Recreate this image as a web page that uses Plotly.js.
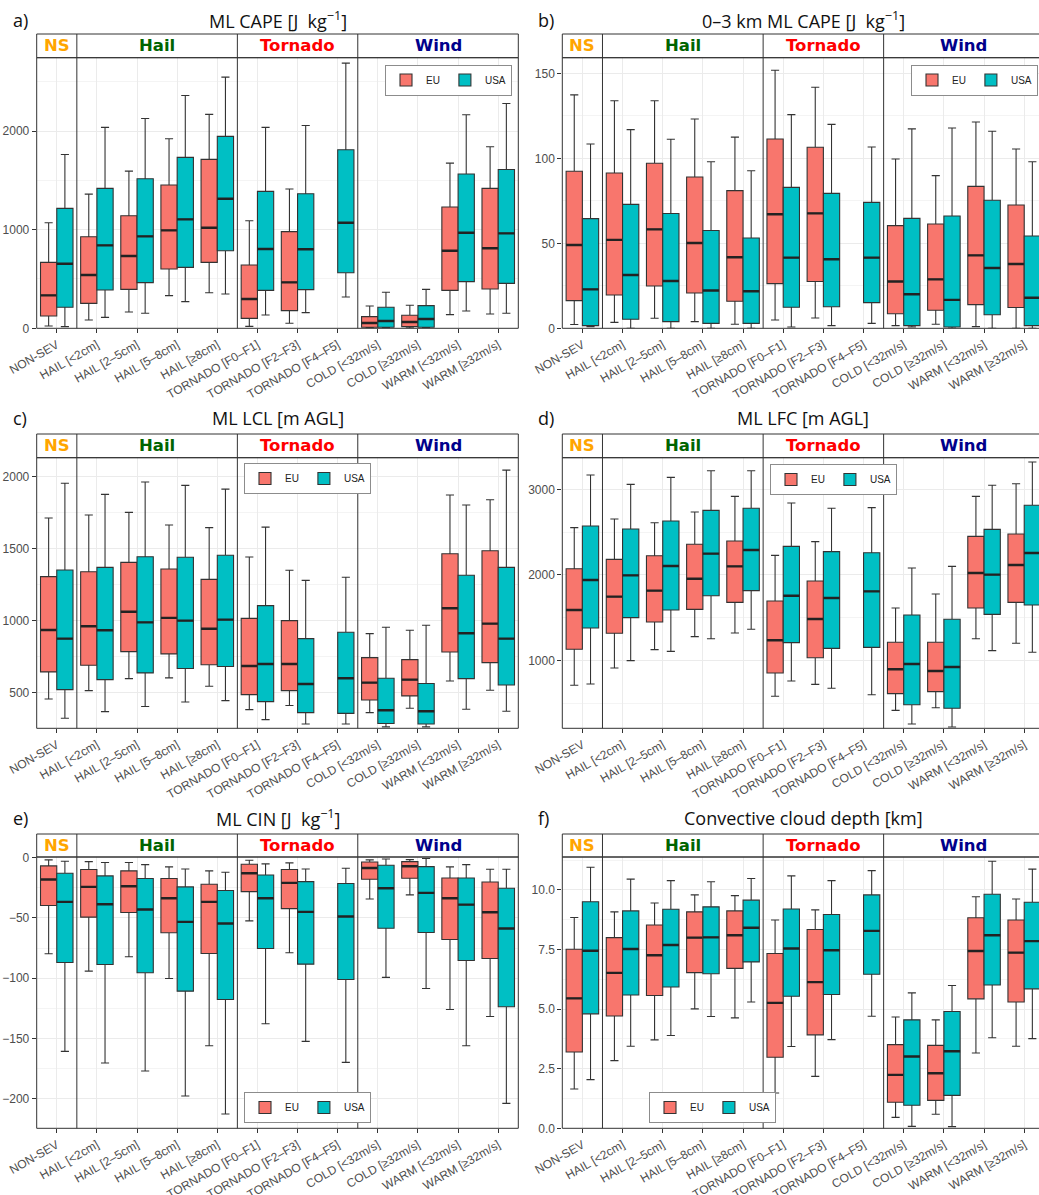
<!DOCTYPE html>
<html><head><meta charset="utf-8">
<script src="https://cdn.plot.ly/plotly-3.0.1.min.js"></script>
<style>html,body{margin:0;padding:0;background:#fff}#chart{width:1039px;height:1195px}</style>
</head><body><div id="chart"></div>
<script>
// ---------------- DATA ----------------
const categories = ["NON-SEV","HAIL [<2cm]","HAIL [2–5cm]","HAIL [5–8cm]","HAIL [≥8cm]",
  "TORNADO [F0–F1]","TORNADO [F2–F3]","TORNADO [F4–F5]",
  "COLD [<32m/s]","COLD [≥32m/s]","WARM [<32m/s]","WARM [≥32m/s]"];
const groupLabels = ["NS","Hail","Tornado","Wind"];
const groupSizes = [1,4,3,4];
const seriesNames = ["EU","USA"];

// a) ML CAPE
const capeEU_lo  = [24, 84, 166, 331, 361, 20, 51, null, 3, 3, 139, 145];
const capeEU_q1  = [125, 253, 395, 601, 669, 101, 179, null, 10, 17, 385, 399];
const capeEU_med = [334, 540, 733, 993, 1020, 297, 466, null, 54, 64, 787, 811];
const capeEU_q3  = [669, 929, 1142, 1453, 1713, 642, 980, null, 118, 132, 1230, 1419];
const capeEU_hi  = [1071, 1361, 1594, 1922, 2169, 1091, 1412, null, 226, 233, 1675, 1841];
const capeUS_lo  = [17, 111, 152, 270, 348, 135, 159, 318, 3, 3, 176, 152];
const capeUS_q1  = [213, 388, 463, 618, 787, 385, 392, 564, 10, 10, 473, 456];
const capeUS_med = [655, 841, 932, 1105, 1314, 804, 801, 1071, 74, 95, 969, 963];
const capeUS_q3  = [1216, 1419, 1517, 1733, 1946, 1388, 1365, 1811, 213, 230, 1564, 1611];
const capeUS_hi  = [1763, 2037, 2128, 2361, 2547, 2037, 2057, 2689, 365, 395, 2165, 2280];

// b) 0-3 km ML CAPE
const cape03EU_lo  = [2.2, 3.5, 5.9, 3.9, 2.4, 4.9, 6.1, null, 1.6, 2.4, 1.0, 0];
const cape03EU_q1  = [16.3, 19.6, 24.9, 20.8, 15.9, 26.3, 27.5, null, 8.6, 10.6, 13.9, 12.2];
const cape03EU_med = [49.0, 52.0, 58.2, 50.2, 41.8, 67.1, 67.6, null, 27.5, 28.8, 42.9, 37.8];
const cape03EU_q3  = [92.4, 91.4, 97.1, 89.0, 81.0, 111.4, 106.5, null, 60.4, 61.4, 83.5, 72.5];
const cape03EU_hi  = [137.3, 133.9, 133.9, 123.1, 112.5, 151.8, 141.8, null, 99.6, 89.8, 121.4, 105.5];
const cape03US_lo  = [1.0, 0, 0, 0, 0, 0.8, 1.6, 2.9, 0.8, 0, 0, 0];
const cape03US_q1  = [1.6, 5.3, 3.9, 2.9, 2.9, 12.4, 12.7, 15.1, 1.6, 0.8, 8.0, 1.6];
const cape03US_med = [22.9, 31.4, 27.8, 22.2, 21.8, 41.6, 40.6, 41.6, 20.0, 16.7, 35.5, 18.0];
const cape03US_q3  = [64.5, 72.9, 67.5, 57.5, 53.1, 82.9, 79.4, 74.1, 64.7, 66.1, 75.3, 54.3];
const cape03US_hi  = [108.4, 116.9, 111.2, 98.0, 92.7, 125.7, 120.0, 106.7, 117.3, 117.8, 115.9, 98.0];

// c) ML LCL
const lclEU_lo  = [456, 514, 597, 602, 544, 382, 410, null, 361, 391, 581, 516];
const lclEU_q1  = [644, 690, 785, 769, 694, 486, 514, null, 449, 477, 782, 708];
const lclEU_med = [935, 961, 1062, 1019, 944, 685, 699, null, 569, 590, 1086, 979];
const lclEU_q3  = [1306, 1340, 1405, 1359, 1287, 1016, 1000, null, 743, 729, 1465, 1486];
const lclEU_hi  = [1713, 1734, 1752, 1664, 1646, 1442, 1350, null, 910, 933, 1873, 1840];
const lclUS_lo  = [322, 368, 403, 435, 444, 312, 282, 282, 262, 262, 384, 370];
const lclUS_q1  = [521, 590, 637, 667, 681, 437, 361, 356, 285, 282, 597, 553];
const lclUS_med = [875, 933, 988, 1000, 1007, 699, 560, 600, 377, 370, 912, 875];
const lclUS_q3  = [1352, 1370, 1444, 1440, 1454, 1104, 875, 919, 600, 563, 1315, 1370];
const lclUS_hi  = [1954, 1877, 1963, 1940, 1914, 1650, 1280, 1301, 954, 968, 1803, 2046];

// d) ML LFC
const lfcEU_lo  = [708, 910, 1125, 1277, 1320, 579, 719, null, 415, 446, 1253, 1199];
const lfcEU_q1  = [1129, 1316, 1448, 1596, 1678, 852, 1031, null, 610, 634, 1612, 1678];
const lfcEU_med = [1589, 1745, 1815, 1955, 2099, 1234, 1483, null, 895, 875, 2021, 2115];
const lfcEU_q3  = [2072, 2181, 2224, 2357, 2396, 1694, 1928, null, 1211, 1211, 2450, 2478];
const lfcEU_hi  = [2552, 2653, 2610, 2735, 2918, 2228, 2388, null, 1612, 1776, 2918, 3066];
const lfcUS_lo  = [723, 996, 1105, 1253, 1363, 758, 673, 598, 255, 220, 1113, 1094];
const lfcUS_q1  = [1378, 1499, 1589, 1756, 1815, 1207, 1140, 1152, 481, 439, 1538, 1647];
const lfcUS_med = [1940, 1994, 2103, 2248, 2290, 1756, 1729, 1807, 957, 922, 2002, 2255];
const lfcUS_q3  = [2571, 2536, 2630, 2754, 2778, 2333, 2271, 2259, 1530, 1480, 2532, 2813];
const lfcUS_hi  = [3168, 3058, 3140, 3218, 3218, 2840, 2778, 2786, 2080, 2099, 3047, 3320];

// e) ML CIN
const cinEU_lo  = [-79.8, -94.2, -82.3, -100.3, -156.1, -52.5, -79.0, null, -34.3, -30.9, -126.0, -131.8];
const cinEU_q1  = [-39.8, -49.4, -45.6, -62.4, -79.6, -28.2, -42.3, null, -18.0, -17.1, -68.0, -83.7];
const cinEU_med = [-18.2, -24.3, -23.8, -33.7, -36.7, -13.0, -21.0, null, -8.6, -7.2, -33.7, -45.3];
const cinEU_q3  = [-6.9, -9.9, -11.0, -17.4, -22.1, -5.5, -9.9, null, -3.6, -3.3, -16.9, -20.2];
const cinEU_hi  = [-1.9, -3.3, -4.1, -7.7, -11.0, -2.2, -4.4, null, -1.9, -1.7, -7.7, -9.7];
const cinUS_lo  = [-160.8, -170.4, -177.1, -197.8, -212.7, -137.8, -152.5, -169.9, -99.4, -108.6, -156.1, -203.9];
const cinUS_q1  = [-87.0, -88.7, -95.6, -110.8, -117.7, -75.4, -88.4, -101.1, -58.6, -62.2, -85.4, -123.8];
const cinUS_med = [-36.7, -38.7, -43.1, -53.3, -54.7, -33.7, -45.0, -48.9, -25.4, -29.3, -39.0, -58.8];
const cinUS_q3  = [-13.0, -15.2, -17.4, -24.3, -27.3, -14.4, -19.9, -21.5, -6.4, -7.5, -16.9, -25.4];
const cinUS_hi  = [-3.0, -4.1, -5.8, -9.4, -12.2, -5.2, -9.4, -8.8, -1.1, -0.8, -5.8, -9.7];

// f) Convective cloud depth
const ccdEU_lo  = [1.65, 2.84, 3.71, 5.01, 4.63, 1.48, 2.18, null, 0.46, 0.59, 3.16, 3.44];
const ccdEU_q1  = [3.20, 4.71, 5.57, 6.53, 6.71, 2.98, 3.92, null, 1.09, 1.17, 5.43, 5.30];
const ccdEU_med = [5.45, 6.52, 7.26, 8.00, 8.10, 5.26, 6.13, null, 2.24, 2.31, 7.44, 7.37];
const ccdEU_q3  = [7.51, 8.00, 8.53, 9.08, 9.12, 7.33, 8.34, null, 3.51, 3.48, 8.83, 8.74];
const ccdEU_hi  = [8.84, 9.08, 9.45, 9.79, 9.76, 8.74, 9.16, null, 4.67, 4.55, 9.71, 9.62];
const ccdUS_lo  = [2.04, 3.44, 3.89, 4.69, 5.30, 3.43, 3.72, 4.70, 0.08, 0.07, 3.80, 3.76];
const ccdUS_q1  = [4.80, 5.59, 5.93, 6.48, 6.98, 5.54, 5.61, 6.46, 0.97, 1.38, 6.01, 5.85];
const ccdUS_med = [7.45, 7.52, 7.69, 8.01, 8.41, 7.54, 7.47, 8.28, 3.01, 3.23, 8.10, 7.85];
const ccdUS_q3  = [9.50, 9.12, 9.19, 9.29, 9.57, 9.20, 8.97, 9.79, 4.55, 4.90, 9.82, 9.48];
const ccdUS_hi  = [10.95, 10.45, 10.39, 10.34, 10.48, 10.59, 10.39, 10.81, 5.68, 5.99, 11.20, 10.87];

// ---------------- LAYOUT / STYLE ----------------
const W = 1039, H = 1195;
const pxX = v => v / W;
const pxY = v => 1 - v / H;
const cols = [{l: 36.7, r: 518.3}, {l: 562.3, r: 1044.3}];
const rows = [
  {stripTop: 34,  top: 57.7,  bottom: 328.3,  titleY: 20},
  {stripTop: 434, top: 457.7, bottom: 728.3,  titleY: 418},
  {stripTop: 834, top: 857,   bottom: 1128.3, titleY: 818}
];
const colors = {EU: '#F8766D', USA: '#00BFC4'};
const groupColors = ['#FFA500', '#006400', '#FF0000', '#00008B'];
const border = '#333333';
const tickFont = {family: 'Liberation Sans, Arial, sans-serif', size: 12, color: '#4D4D4D'};

const panels = [
  {letter: 'a)', title: 'ML CAPE [J&nbsp; kg<sup>−1</sup>]', col: 0, row: 0, range: [0, 2744], dtick: 1000, minor: 500, fmt: '',
   eu: [capeEU_lo, capeEU_q1, capeEU_med, capeEU_q3, capeEU_hi], us: [capeUS_lo, capeUS_q1, capeUS_med, capeUS_q3, capeUS_hi],
   leg: {x: 512, y: 80, xa: 'right'}},
  {letter: 'b)', title: '0–3 km ML CAPE [J&nbsp; kg<sup>−1</sup>]', col: 1, row: 0, range: [0, 159.2], dtick: 50, minor: 25, fmt: '',
   eu: [cape03EU_lo, cape03EU_q1, cape03EU_med, cape03EU_q3, cape03EU_hi], us: [cape03US_lo, cape03US_q1, cape03US_med, cape03US_q3, cape03US_hi],
   leg: {x: 1038, y: 80, xa: 'right'}},
  {letter: 'c)', title: 'ML LCL [m AGL]', col: 0, row: 1, range: [252, 2132], dtick: 500, minor: 250, fmt: '',
   eu: [lclEU_lo, lclEU_q1, lclEU_med, lclEU_q3, lclEU_hi], us: [lclUS_lo, lclUS_q1, lclUS_med, lclUS_q3, lclUS_hi],
   leg: {x: 307.5, y: 478.5, xa: 'center'}},
  {letter: 'd)', title: 'ML LFC [m AGL]', col: 1, row: 1, range: [205, 3370], dtick: 1000, minor: 500, fmt: '',
   eu: [lfcEU_lo, lfcEU_q1, lfcEU_med, lfcEU_q3, lfcEU_hi], us: [lfcUS_lo, lfcUS_q1, lfcUS_med, lfcUS_q3, lfcUS_hi],
   leg: {x: 833.5, y: 479.5, xa: 'center'}},
  {letter: 'e)', title: 'ML CIN [J&nbsp; kg<sup>−1</sup>]', col: 0, row: 2, range: [-224.6, 0.5], dtick: 50, minor: 25, fmt: '',
   eu: [cinEU_lo, cinEU_q1, cinEU_med, cinEU_q3, cinEU_hi], us: [cinUS_lo, cinUS_q1, cinUS_med, cinUS_q3, cinUS_hi],
   leg: {x: 307.5, y: 1107.5, xa: 'center'}},
  {letter: 'f)', title: 'Convective cloud depth [km]', col: 1, row: 2, range: [0, 11.38], dtick: 2.5, minor: 1.25, fmt: '.1f',
   eu: [ccdEU_lo, ccdEU_q1, ccdEU_med, ccdEU_q3, ccdEU_hi], us: [ccdUS_lo, ccdUS_q1, ccdUS_med, ccdUS_q3, ccdUS_hi],
   leg: {x: 712.5, y: 1107.5, xa: 'center'}}
];

const traces = [];
const layout = {
  width: W, height: H, margin: {l: 0, r: 0, t: 0, b: 0},
  paper_bgcolor: '#fff', plot_bgcolor: '#fff',
  boxmode: 'group', boxgap: 0.19, boxgroupgap: 0,
  showlegend: true, shapes: [], annotations: [],
  font: {family: 'Liberation Sans, Arial, sans-serif', color: '#333'}
};

// group boundaries from group sizes
const bounds = [];
let cum = 0;
groupSizes.forEach(s => { bounds.push([cum - 0.5, cum + s - 0.5]); cum += s; });

panels.forEach((p, k) => {
  const n = k + 1;
  const xa = n === 1 ? 'x' : 'x' + n, ya = n === 1 ? 'y' : 'y' + n;
  const legName = n === 1 ? 'legend' : 'legend' + n;
  const c = cols[p.col], r = rows[p.row];
  const step = (c.r - c.l) / categories.length;
  const xRight = Math.min(c.r, W);
  const rangeMax = categories.length - 0.5 - (c.r - xRight) / step;

  layout[(n === 1 ? 'xaxis' : 'xaxis' + n)] = {
    domain: [pxX(c.l), pxX(xRight)], anchor: ya, type: 'category',
    categoryorder: 'array', categoryarray: categories, range: [-0.5, rangeMax],
    showgrid: true, gridcolor: '#EBEBEB', gridwidth: 1, zeroline: false, showline: false,
    ticks: 'outside', ticklen: 4, tickwidth: 1, tickcolor: border, tickangle: -30,
    tickfont: Object.assign({}, tickFont, {size: 12}), fixedrange: true
  };
  layout[(n === 1 ? 'yaxis' : 'yaxis' + n)] = {
    domain: [pxY(r.bottom), pxY(r.top)], anchor: xa, range: p.range,
    tick0: 0, dtick: p.dtick, tickformat: p.fmt,
    showgrid: true, gridcolor: '#EBEBEB', gridwidth: 1, zeroline: false, showline: false,
    minor: {dtick: p.minor, showgrid: true, gridcolor: '#F4F4F4', gridwidth: 1, ticks: ''},
    ticks: 'outside', ticklen: 4, tickwidth: 1, tickcolor: border,
    tickfont: tickFont, fixedrange: true
  };

  [[p.eu, 'EU'], [p.us, 'USA']].forEach(([s, name]) => {
    const idx = categories.map((_, i) => i).filter(i => s[1][i] !== null);
    const pick = a => idx.map(i => a[i]);
    const xs = pick(categories);
    traces.push({
      type: 'box', name: name, x: xs, xaxis: xa, yaxis: ya,
      lowerfence: pick(s[0]), q1: pick(s[1]), median: pick(s[2]), q3: pick(s[3]), upperfence: pick(s[4]),
      fillcolor: colors[name], line: {color: border, width: 1.1}, whiskerwidth: 0.5,
      offsetgroup: name, legend: legName, boxpoints: false, hoverinfo: 'skip'
    });
    // thicker median bar
    const med = pick(s[2]);
    traces.push({
      type: 'box', name: name + ' median', x: xs, xaxis: xa, yaxis: ya,
      lowerfence: med, q1: med, median: med, q3: med, upperfence: med,
      fillcolor: 'rgba(0,0,0,0)', line: {color: '#222', width: 2.4}, whiskerwidth: 0,
      offsetgroup: name, legend: legName, showlegend: false, boxpoints: false, hoverinfo: 'skip'
    });
  });

  layout[legName] = {
    x: pxX(p.leg.x), y: pxY(p.leg.y), xanchor: p.leg.xa, yanchor: 'middle',
    orientation: 'h', bgcolor: '#fff', bordercolor: '#8C8C8C', borderwidth: 1,
    font: {family: 'Liberation Sans, Arial, sans-serif', size: 10, color: '#222'},
    itemwidth: 30, itemclick: false, itemdoubleclick: false
  };

  // panel border
  layout.shapes.push({type: 'rect', xref: 'paper', yref: 'paper',
    x0: pxX(c.l), x1: pxX(c.r), y0: pxY(r.bottom), y1: pxY(r.top),
    line: {color: border, width: 1}, fillcolor: 'rgba(0,0,0,0)'});
  // strip border
  layout.shapes.push({type: 'rect', xref: 'paper', yref: 'paper',
    x0: pxX(c.l), x1: pxX(c.r), y0: pxY(r.top), y1: pxY(r.stripTop),
    line: {color: border, width: 1}, fillcolor: 'rgba(0,0,0,0)'});
  // facet separators
  bounds.slice(1).forEach(b => {
    layout.shapes.push({type: 'line', xref: xa, yref: 'paper',
      x0: b[0], x1: b[0], y0: pxY(r.bottom), y1: pxY(r.stripTop),
      line: {color: border, width: 1}});
  });
  // strip labels
  groupLabels.forEach((g, gi) => {
    layout.annotations.push({xref: xa, yref: 'paper', x: (bounds[gi][0] + bounds[gi][1]) / 2,
      y: pxY((r.top + r.stripTop) / 2), text: '<b>' + g + '</b>', showarrow: false,
      xanchor: 'center', yanchor: 'middle',
      font: {family: 'DejaVu Sans, sans-serif', size: 16.5, color: groupColors[gi]}});
  });
  // title
  layout.annotations.push({xref: 'paper', yref: 'paper', x: pxX((c.l + c.r) / 2), y: pxY(r.titleY),
    text: p.title, showarrow: false, xanchor: 'center', yanchor: 'middle',
    font: {family: 'Open Sans, sans-serif', size: 18, color: '#111'}});
  // panel letter
  layout.annotations.push({xref: 'paper', yref: 'paper', x: pxX(c.l - 26), y: pxY(r.titleY),
    text: p.letter, showarrow: false, xanchor: 'left', yanchor: 'middle',
    font: {family: 'Open Sans, sans-serif', size: 18, color: '#111'}});
});

Plotly.newPlot('chart', traces, layout, {staticPlot: true, displayModeBar: false});
</script></body></html>
